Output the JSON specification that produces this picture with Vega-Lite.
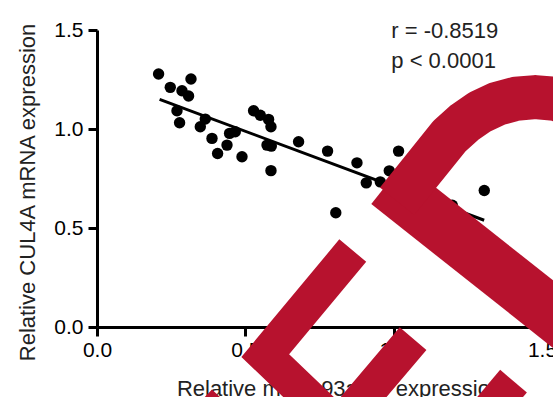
{
  "$schema": "https://vega.github.io/schema/vega-lite/v6.json",
  "width": 445,
  "height": 297,
  "autosize": {"type": "none"},
  "padding": {"left": 97, "top": 30, "right": 11, "bottom": 70},
  "background": "white",
  "config": {
    "view": {"stroke": null},
    "font": "Liberation Sans",
    "axis": {
      "grid": false,
      "labelFlush": false,
      "labelOverlap": false,
      "domainColor": "black",
      "domainWidth": 3,
      "tickColor": "black",
      "tickWidth": 3,
      "tickSize": 9,
      "labelFont": "Liberation Sans",
      "labelFontSize": 21,
      "labelColor": "black",
      "titleFont": "Liberation Sans",
      "titleFontSize": 22,
      "titleFontWeight": "normal",
      "titleColor": "#222222"
    }
  },
  "datasets": {
    "points": [
      {"x": 0.2076, "y": 1.2776}, {"x": 0.2470, "y": 1.2103}, {"x": 0.3168, "y": 1.2523},
      {"x": 0.2865, "y": 1.1931}, {"x": 0.3087, "y": 1.1663}, {"x": 0.2696, "y": 1.0920},
      {"x": 0.2784, "y": 1.0313}, {"x": 0.3482, "y": 1.0111}, {"x": 0.3650, "y": 1.0501},
      {"x": 0.3876, "y": 0.9525}, {"x": 0.4065, "y": 0.8766}, {"x": 0.4382, "y": 0.9186},
      {"x": 0.4469, "y": 0.9778}, {"x": 0.4661, "y": 0.9858}, {"x": 0.4887, "y": 0.8595},
      {"x": 0.5278, "y": 1.0920}, {"x": 0.5504, "y": 1.0698}, {"x": 0.5784, "y": 1.0485},
      {"x": 0.5864, "y": 1.0111}, {"x": 0.5730, "y": 0.9186}, {"x": 0.5875, "y": 0.9136},
      {"x": 0.5864, "y": 0.7897}, {"x": 0.6795, "y": 0.9353}, {"x": 0.7772, "y": 0.8883},
      {"x": 0.8763, "y": 0.8291}, {"x": 0.9077, "y": 0.7280}, {"x": 0.9548, "y": 0.7331},
      {"x": 0.9852, "y": 0.7887}, {"x": 1.0165, "y": 0.8883}, {"x": 0.8049, "y": 0.5773},
      {"x": 1.3054, "y": 0.6896}, {"x": 1.1975, "y": 0.6153}
    ],
    "fit": [{"x": 0.211, "y": 1.150}, {"x": 1.305, "y": 0.539}],
    "stats": [
      {"x": 0.992, "y": 1.4596, "label": "r = -0.8519"},
      {"x": 0.992, "y": 1.306, "label": "p < 0.0001"}
    ],
    "shapes": [
      {"shape": "A_lower", "o": 1, "x": 0.980, "y": 0.726},
      {"shape": "A_lower", "o": 2, "x": 2.037, "y": -0.528},
      {"shape": "A_upper", "o": 1, "x": 1.0115, "y": 0.635},
      {"shape": "A_upper", "o": 2, "x": 1.188, "y": 0.964},
      {"shape": "A_upper", "o": 3, "x": 1.2367, "y": 1.030},
      {"shape": "A_upper", "o": 4, "x": 1.2902, "y": 1.086},
      {"shape": "A_upper", "o": 5, "x": 1.3493, "y": 1.1274},
      {"shape": "A_upper", "o": 6, "x": 1.4123, "y": 1.1527},
      {"shape": "A_upper", "o": 7, "x": 1.4773, "y": 1.1613},
      {"shape": "A_upper", "o": 8, "x": 1.5422, "y": 1.1527},
      {"shape": "A_upper", "o": 9, "x": 1.6052, "y": 1.1274},
      {"shape": "A_upper", "o": 10, "x": 1.6643, "y": 1.086},
      {"shape": "B", "o": 1, "x": 0.8621, "y": 0.3862},
      {"shape": "B", "o": 2, "x": 0.5672, "y": -0.1446},
      {"shape": "B", "o": 3, "x": 0.8156, "y": -0.5005},
      {"shape": "B", "o": 4, "x": 1.0654, "y": -0.0586},
      {"shape": "C", "o": 1, "x": 1.4040, "y": -0.2735},
      {"shape": "C", "o": 2, "x": 1.2733, "y": -0.5051},
      {"shape": "D", "o": 1, "x": 0.3468, "y": -0.3791},
      {"shape": "D", "o": 2, "x": 0.4924, "y": -0.5884}
    ]
  },
  "layer": [
    {
      "data": {"name": "points"},
      "mark": {"type": "point", "filled": true, "shape": "circle", "size": 130, "color": "black", "opacity": 1},
      "encoding": {
        "x": {
          "field": "x", "type": "quantitative",
          "scale": {"domain": [0, 1.5], "nice": false},
          "axis": {
            "values": [0, 0.5, 1, 1.5], "format": ".1f",
            "labelPadding": 3,
            "title": "Relative miR-193a-3p expression",
            "titleX": 242, "titleY": 68, "titleBaseline": "alphabetic"
          }
        },
        "y": {
          "field": "y", "type": "quantitative",
          "scale": {"domain": [0, 1.5], "nice": false},
          "axis": {
            "values": [0, 0.5, 1, 1.5], "format": ".1f",
            "labelPadding": 5,
            "title": "Relative CUL4A mRNA expression",
            "titleX": -63, "titleY": 162, "titleBaseline": "alphabetic"
          }
        }
      }
    },
    {
      "data": {"name": "fit"},
      "mark": {"type": "line", "color": "black", "strokeWidth": 3},
      "encoding": {
        "x": {"field": "x", "type": "quantitative"},
        "y": {"field": "y", "type": "quantitative"}
      }
    },
    {
      "data": {"name": "stats"},
      "mark": {"type": "text", "align": "left", "baseline": "alphabetic", "fontSize": 22, "font": "Liberation Sans", "color": "#222222"},
      "encoding": {
        "x": {"field": "x", "type": "quantitative"},
        "y": {"field": "y", "type": "quantitative"},
        "text": {"field": "label"}
      }
    },
    {
      "data": {"name": "shapes"},
      "transform": [{"filter": "datum.shape === 'A_lower'"}],
      "mark": {"type": "line", "color": "#b7122e", "strokeWidth": 53, "strokeCap": "butt", "strokeJoin": "miter"},
      "encoding": {
        "x": {"field": "x", "type": "quantitative"},
        "y": {"field": "y", "type": "quantitative"},
        "order": {"field": "o"}
      }
    },
    {
      "data": {"name": "shapes"},
      "transform": [{"filter": "datum.shape === 'A_upper'"}],
      "mark": {"type": "line", "color": "#b7122e", "strokeWidth": 44, "strokeCap": "butt", "strokeJoin": "round"},
      "encoding": {
        "x": {"field": "x", "type": "quantitative"},
        "y": {"field": "y", "type": "quantitative"},
        "order": {"field": "o"}
      }
    },
    {
      "data": {"name": "shapes"},
      "transform": [{"filter": "datum.shape === 'B' || datum.shape === 'C' || datum.shape === 'D'"}],
      "mark": {"type": "line", "color": "#b7122e", "strokeWidth": 35, "strokeCap": "butt", "strokeJoin": "miter", "strokeMiterLimit": 10},
      "encoding": {
        "x": {"field": "x", "type": "quantitative"},
        "y": {"field": "y", "type": "quantitative"},
        "detail": {"field": "shape"},
        "order": {"field": "o"}
      }
    }
  ]
}
